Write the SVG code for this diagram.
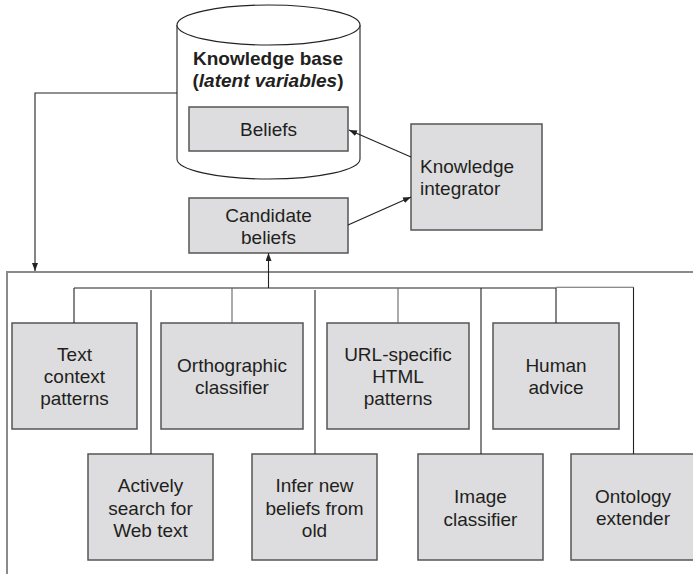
<svg xmlns="http://www.w3.org/2000/svg" width="693" height="574" viewBox="0 0 693 574">
  <style>
    .box { fill: #dddddf; stroke: #555; stroke-width: 1.5; }
    .lbl { font-family: "Liberation Sans", Arial, sans-serif; font-size: 19px; fill: #231f20; text-anchor: middle; }
    .lft { text-anchor: start; }
    .bold { font-weight: bold; }
    .wire { fill: none; stroke: #222; stroke-width: 1.1; }
    .grey { fill: none; stroke: #666; stroke-width: 1.1; }
    .frame { fill: none; stroke: #8a8a8a; stroke-width: 2; }
    .drum { fill: #fff; stroke: #222; stroke-width: 1.1; }
  </style>
  <defs>
    <marker id="arrow" viewBox="0 0 8 6" refX="8" refY="3" markerWidth="8" markerHeight="6" markerUnits="userSpaceOnUse" orient="auto">
      <path d="M0,0 L8,3 L0,6 z" fill="#222"/>
    </marker>
  </defs>

  <rect width="693" height="574" fill="#fff"/>

  <!-- agent frame: open box along top and left -->
  <g id="frame">
    <polyline class="frame" points="7,574 7,272 693,272"/>
  </g>

  <!-- knowledge base cylinder -->
  <g id="knowledge-base">
    <path class="drum" d="M177,25 L177,159 A91.5,20 0 0 0 360,159 L360,25"/>
    <ellipse class="drum" cx="268.5" cy="25" rx="91.5" ry="20"/>
    <text class="lbl bold" x="268" y="65">Knowledge base</text>
    <text class="lbl bold" x="268" y="87">(<tspan font-style="italic">latent variables</tspan>)</text>
  </g>

  <g id="beliefs">
    <rect class="box" x="189" y="107" width="159" height="44"/>
    <text class="lbl" x="268.5" y="136">Beliefs</text>
  </g>

  <g id="candidate-beliefs">
    <rect class="box" x="189" y="198" width="159" height="55"/>
    <text class="lbl" x="268.5" y="222">Candidate</text>
    <text class="lbl" x="268.5" y="244">beliefs</text>
  </g>

  <g id="knowledge-integrator">
    <rect class="box" x="411" y="124" width="131" height="106"/>
    <text class="lbl lft" x="420" y="173">Knowledge</text>
    <text class="lbl lft" x="420" y="195">integrator</text>
  </g>

  <!-- learning modules, upper row -->
  <g id="text-context">
    <rect class="box" x="12" y="323" width="125" height="106"/>
    <text class="lbl" x="74.5" y="361">Text</text>
    <text class="lbl" x="74.5" y="383">context</text>
    <text class="lbl" x="74.5" y="405">patterns</text>
  </g>
  <g id="orthographic">
    <rect class="box" x="161" y="323" width="142" height="106"/>
    <text class="lbl" x="232" y="372">Orthographic</text>
    <text class="lbl" x="232" y="394">classifier</text>
  </g>
  <g id="url-html">
    <rect class="box" x="327" y="323" width="142" height="106"/>
    <text class="lbl" x="398" y="361">URL-specific</text>
    <text class="lbl" x="398" y="383">HTML</text>
    <text class="lbl" x="398" y="405">patterns</text>
  </g>
  <g id="human-advice">
    <rect class="box" x="493" y="323" width="126" height="106"/>
    <text class="lbl" x="556" y="372">Human</text>
    <text class="lbl" x="556" y="394">advice</text>
  </g>

  <!-- learning modules, lower row -->
  <g id="active-search">
    <rect class="box" x="88" y="454" width="125" height="106"/>
    <text class="lbl" x="150.5" y="492">Actively</text>
    <text class="lbl" x="150.5" y="515">search for</text>
    <text class="lbl" x="150.5" y="537">Web text</text>
  </g>
  <g id="infer-beliefs">
    <rect class="box" x="252" y="454" width="125" height="106"/>
    <text class="lbl" x="314.5" y="492">Infer new</text>
    <text class="lbl" x="314.5" y="515">beliefs from</text>
    <text class="lbl" x="314.5" y="537">old</text>
  </g>
  <g id="image-classifier">
    <rect class="box" x="418" y="454" width="125" height="106"/>
    <text class="lbl" x="480.5" y="503">Image</text>
    <text class="lbl" x="480.5" y="526">classifier</text>
  </g>
  <g id="ontology-extender">
    <rect class="box" x="571" y="454" width="130" height="106"/>
    <text class="lbl" x="633" y="503">Ontology</text>
    <text class="lbl" x="633" y="525">extender</text>
  </g>

  <g id="connectors">
    <!-- knowledge base feeds the modules -->
    <polyline class="wire" points="177,93 35,93 35,271" marker-end="url(#arrow)"/>
    <!-- integrator to beliefs, candidates to integrator -->
    <line class="wire" x1="411" y1="157" x2="349" y2="130" marker-end="url(#arrow)"/>
    <line class="wire" x1="348" y1="225" x2="411" y2="197" marker-end="url(#arrow)"/>
    <!-- module tree up to candidate beliefs -->
    <line class="wire" x1="268.5" y1="288" x2="268.5" y2="253" marker-end="url(#arrow)"/>
    <line class="wire" x1="74" y1="288" x2="556" y2="288"/>
    <line class="grey" x1="556" y1="287.3" x2="633.5" y2="287.3"/>
    <!-- drops to upper row -->
    <line class="wire" x1="74" y1="288" x2="74" y2="323"/>
    <line class="grey" x1="232" y1="288" x2="232" y2="323"/>
    <line class="grey" x1="398" y1="288" x2="398" y2="323"/>
    <line class="wire" x1="556" y1="288" x2="556" y2="323"/>
    <!-- drops to lower row -->
    <line class="wire" x1="151" y1="290" x2="151" y2="454"/>
    <line class="wire" x1="315" y1="290" x2="315" y2="454"/>
    <line class="wire" x1="481" y1="288" x2="481" y2="454"/>
    <line class="wire" x1="633.5" y1="287.3" x2="633.5" y2="454"/>
  </g>
</svg>
